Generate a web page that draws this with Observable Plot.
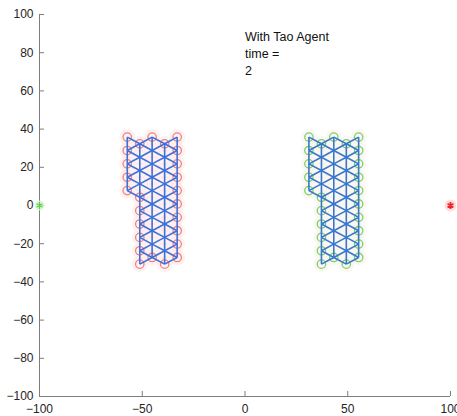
<!DOCTYPE html>
<html>
<head>
<meta charset="utf-8">
<script src="https://cdn.jsdelivr.net/npm/d3@7"></script>
<script src="https://cdn.jsdelivr.net/npm/@observablehq/plot@0.6"></script>
<style>
  html, body { margin: 0; padding: 0; background: #fff; }
  #chart svg { display: block; }
</style>
</head>
<body>
<div id="chart"></div>
<script>
// ---- data ----
const xTicks = [-100, -50, 0, 50, 100];
const yTicks = [-100, -80, -60, -40, -20, 0, 20, 40, 60, 80, 100];

// lattice columns (x of each column) for the two formations
const leftColX = [-57.3, -51.2, -45.2, -39.1, -33.0];
const rightColX = [31.1, 37.2, 43.2, 49.3, 55.3];

// node y positions per column
const firstColY = [35.8, 28.8, 21.8, 14.8, 7.8];
const oddColY = [32.3, 25.3, 18.3, 11.3, 4.3, -2.7, -9.7, -16.7, -23.7, -30.7];
const evenColY = [35.8, 28.8, 21.8, 14.8, 7.8, 0.8, -6.2, -13.2, -20.2, -27.2];
const colYLists = [firstColY, oddColY, evenColY, oddColY, evenColY];
const edgeLength = 7;

const leaderPoint = [{x: -100, y: 0}];
const targetPoint = [{x: 100, y: 0}];
const titleLines = ["With Tao Agent", "time =", "2"];

// ---- build lattice ----
function buildNodes(colX, group) {
  const nodes = [];
  colX.forEach((x, c) => colYLists[c].forEach(y => nodes.push({x, y, c, group, deg: 0})));
  return nodes;
}
function buildEdges(nodes) {
  const edges = [];
  for (let i = 0; i < nodes.length; i++) {
    for (let j = i + 1; j < nodes.length; j++) {
      const a = nodes[i], b = nodes[j];
      const dc = Math.abs(a.c - b.c), dy = Math.abs(a.y - b.y);
      const vertical = dc === 0 && Math.abs(dy - edgeLength) < 0.5;
      const diagonal = dc === 1 && Math.abs(dy - edgeLength / 2) < 0.5;
      if (vertical || diagonal) {
        edges.push({x1: a.x, y1: a.y, x2: b.x, y2: b.y, group: a.group});
        a.deg++; b.deg++;
      }
    }
  }
  return edges;
}
const leftNodes = buildNodes(leftColX, "left");
const rightNodes = buildNodes(rightColX, "right");
const leftEdges = buildEdges(leftNodes);
const rightEdges = buildEdges(rightNodes);
const leftRing = leftNodes.filter(d => d.deg < 6);
const rightRing = rightNodes.filter(d => d.deg < 6);

const axisColor = "#7d7d7d";
const labelColor = "#262626";

const chart = Plot.plot({
  width: 457,
  height: 416,
  marginLeft: 39,
  marginRight: 7,
  marginTop: 14,
  marginBottom: 20,
  x: {domain: [-100, 100]},
  y: {domain: [-100, 100]},
  style: {fontFamily: "'Liberation Sans', Arial, Helvetica, sans-serif", fontSize: "12px", background: "#fff"},
  marks: [
    // halos
    Plot.dot(leftNodes, {x: "x", y: "y", r: 8, fill: "#fbe1e1", fillOpacity: 0.45}),
    Plot.dot(rightNodes, {x: "x", y: "y", r: 8, fill: "#f6ede4", fillOpacity: 0.45}),
    // rings
    Plot.dot(leftRing, {x: "x", y: "y", r: 4.2, stroke: "#f08080", strokeWidth: 1.3}),
    Plot.dot(rightRing, {x: "x", y: "y", r: 4.2, stroke: "#7bd166", strokeWidth: 1.3}),
    // lattice links
    Plot.link(leftEdges, {x1: "x1", y1: "y1", x2: "x2", y2: "y2", stroke: "#3d70d8", strokeWidth: 1.6}),
    Plot.link(rightEdges, {x1: "x1", y1: "y1", x2: "x2", y2: "y2", stroke: "#3777cc", strokeWidth: 1.6}),
    // axes lines
    Plot.ruleY([-100], {stroke: axisColor, strokeWidth: 1}),
    Plot.ruleX([-100], {stroke: axisColor, strokeWidth: 1}),
    // inward ticks
    Plot.ruleX(xTicks, {x: d => d, y1: -100, y2: -100, insetTop: -5, stroke: axisColor}),
    Plot.ruleY(yTicks, {y: d => d, x1: -100, x2: -100, insetRight: -5, stroke: axisColor}),
    // tick labels
    Plot.axisX(xTicks, {anchor: "bottom", tickSize: 0, tickPadding: 8, label: null, fill: labelColor, fontSize: 12}),
    Plot.axisY(yTicks, {anchor: "left", tickSize: 0, tickPadding: 6, label: null, fill: labelColor, fontSize: 12}),
    // leader and target
    Plot.dot(leaderPoint, {x: "x", y: "y", r: 5, fill: "#d9f5d2", fillOpacity: 0.8}),
    Plot.dot(leaderPoint, {x: "x", y: "y", r: 3.2, symbol: "asterisk", stroke: "#5ccc48", strokeWidth: 1.3}),
    Plot.dot(targetPoint, {x: "x", y: "y", r: 6, fill: "#fcd4d4", fillOpacity: 0.8}),
    Plot.dot(targetPoint, {x: "x", y: "y", r: 3.2, symbol: "asterisk", stroke: "#e8282c", strokeWidth: 1.8}),
    // title text
    Plot.text([titleLines.join("\n")], {x: 0, y: 92.5, text: d => d, textAnchor: "start", lineAnchor: "top", lineHeight: 1.36, fontSize: 12.5, fill: "#111"})
  ]
});
document.getElementById("chart").appendChild(chart);
</script>
</body>
</html>
